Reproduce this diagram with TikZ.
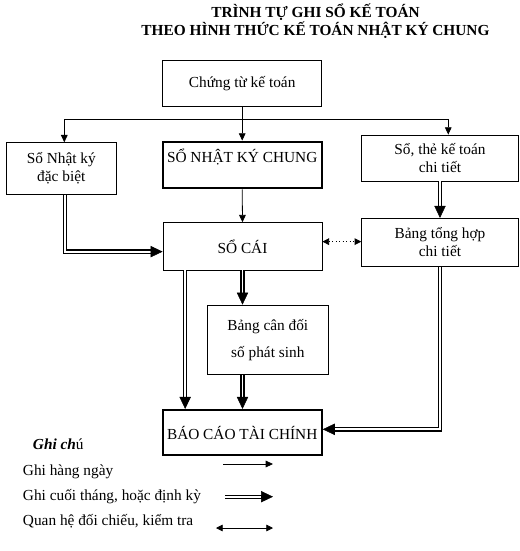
\documentclass[tikz,border=0pt]{standalone}
\usepackage{fontspec}
\setmainfont{Liberation Serif}
\usetikzlibrary{arrows.meta}

\tikzset{
  box/.style={draw, line width=0.6pt, align=center, inner sep=0pt},
  thickbox/.style={box, line width=1.6pt},
  arr/.style={line width=0.6pt, -{Triangle[length=5.5pt,width=5pt]}},
  dbl/.style={line width=1.3pt, white,
    -{Triangle[length=9pt,width=8.5pt,color=black,fill=black,line width=0.4pt]},
    preaction={draw=black, line width=3.3pt, -, shorten >=8pt}},
  cmp/.style={line width=0.6pt, dotted,
    {Triangle[length=5pt,width=5pt]}-{Triangle[length=5pt,width=5pt]}},
  legend/.style={anchor=base west, inner sep=0pt}
}

\begin{document}
\begin{tikzpicture}[x=0.75pt, y=-0.75pt, font=\fontsize{11.5}{13.5}\selectfont]
  \useasboundingbox (0,0) rectangle (520,551);

  % Title
  \node[align=center, font=\fontsize{11.5}{13.7}\selectfont\bfseries] (title) at (315.5,21) {TRÌNH TỰ GHI SỔ KẾ TOÁN\\THEO HÌNH THỨC KẾ TOÁN NHẬT KÝ CHUNG};

  % Nodes
  \node[box, minimum width=119.25pt, minimum height=34.5pt] (chungtu) at (242.2,83.7) {Chứng từ kế toán};
  \node[box, minimum width=83pt, minimum height=38.7pt] (nkdb) at (61.3,168.5) {Sổ Nhật ký\\đặc biệt};
  \node[thickbox, minimum width=119.25pt, minimum height=35pt] (nkc) at (242.2,165) {SỔ NHẬT KÝ CHUNG\\~};
  \node[box, minimum width=117.5pt, minimum height=34.5pt] (sothe) at (440,158) {Sổ, thẻ kế toán\\chi tiết};
  \node[box, minimum width=119.25pt, minimum height=35.5pt] (socai) at (242.5,246.3) {SỔ CÁI};
  \node[box, minimum width=117.5pt, minimum height=36.3pt] (bangth) at (440,242.5) {Bảng tổng hợp\\chi tiết};
  \node[box, minimum width=90.75pt, minimum height=52pt] (bangcd) at (267.8,339.7) {Bảng cân đối\\[6.75pt]số phát sinh};
  \node[thickbox, minimum width=119.25pt, minimum height=33.75pt] (baocao) at (242.2,432.5) {BÁO CÁO TÀI CHÍNH};

  % Legend
  \node[legend] (ghichu) at (32.7,449) {\textbf{\textit{Ghi ch}}ú};
  \node[legend] (hangngay) at (22.7,475.7) {Ghi hàng ngày};
  \node[legend] (cuoithang) at (22.7,500.5) {Ghi cuối tháng, hoặc định kỳ};
  \node[legend] (doichieu) at (22.7,525) {Quan hệ đối chiếu, kiểm tra};
  \coordinate (l1a) at (223,464);
  \coordinate (l1b) at (273,464);
  \coordinate (l2a) at (225,496.7);
  \coordinate (l2b) at (273,496.7);
  \coordinate (l3a) at (216,528);
  \coordinate (l3b) at (273,528);

  % Edges
  \coordinate (split) at (242.2,119);
  \draw[arr] (chungtu.south) -- (nkc.north);
  \draw[arr] (split) -| ([xshift=2.25pt]nkdb.north);
  \draw[arr] (split) -| ([xshift=6.2pt]sothe.north);
  \draw[arr] (nkc.south) -- (socai.north);
  \draw[dbl] ([xshift=2.8pt]nkdb.south) |- ([yshift=-4pt]socai.west);
  \draw[dbl] (sothe.south) -- (bangth.north);
  \draw[cmp] ([yshift=3.5pt]socai.east) -- ([yshift=3.5pt]socai.east -| bangth.west);
  \draw[dbl] (socai.south) -- (socai.south |- bangcd.north);
  \draw[dbl] (socai.south |- bangcd.south) -- (socai.south |- baocao.north);
  \draw[dbl] ([xshift=-43pt]socai.south) -- ([xshift=-43pt]socai.south |- baocao.north);
  \draw[dbl] (bangth.south) |- ([yshift=2.4pt]baocao.east);

  \draw[arr] (l1a) -- (l1b);
  \draw[dbl] (l2a) -- (l2b);
  \draw[cmp, solid] (l3a) -- (l3b);
\end{tikzpicture}
\end{document}
